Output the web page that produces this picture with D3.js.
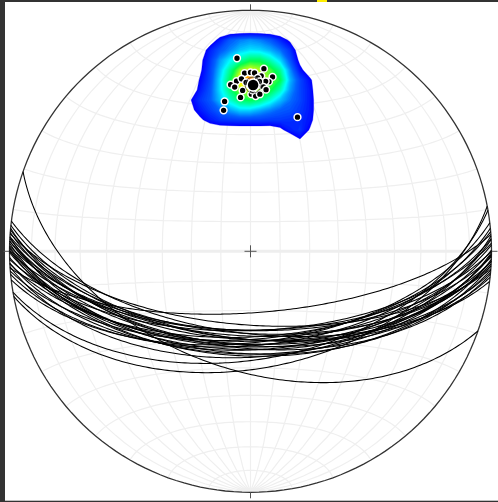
<!DOCTYPE html>
<html><head><meta charset="utf-8">
<script src="https://cdn.jsdelivr.net/npm/d3@7"></script>
<style>html,body{margin:0;padding:0;background:#fff;overflow:hidden}svg{display:block}</style>
</head><body><svg id="c" width="498" height="502"></svg>
<script>
// Poles to planes, lower hemisphere: trend and plunge in degrees
const poleTrend  = [356.0,358.1,0.0,1.3,4.2,7.2,6.2,5.1,3.5,2.4,355.3,353.2,357.2,356.3,350.2,349.2,19.3,0.3,1.9,3.4,359.7,2.4,0.7,357.0,4.5,358.5,1.0,5.5,354.5,3.0];
const polePlunge = [20.8,26.9,26.7,26.9,25.0,27.9,29.9,29.9,27.9,28.8,29.9,31.0,33.6,36.2,37.0,40.2,40.7,35.1,35.8,35.0,31.7,31.6,33.6,29.1,32.1,30.6,32.6,33.1,32.1,30.1];
const meanPole = [0.9, 31.6];

// Density values on a regular grid laid over the top of the net
const densityRows = [
[0,0,0,0,0,0,0,0,0,0,0,0,0,0,0],
[0,0,0,.03,.14,.24,.28,.30,.28,.24,.16,.08,0,0,0],
[0,0,.02,.15,.23,.29,.35,.38,.37,.33,.27,.18,.03,0,0],
[0,0,.07,.18,.31,.40,.48,.54,.54,.47,.37,.23,.07,0,0],
[0,0,.08,.20,.35,.50,.64,.70,.66,.60,.50,.30,.13,.03,0],
[0,0,.11,.21,.38,.55,.74,.86,.72,.62,.56,.34,.21,.12,0],
[0,0,.14,.23,.38,.52,.64,.70,.64,.57,.47,.31,.21,.14,0],
[0,.09,.18,.24,.35,.45,.54,.56,.52,.44,.35,.27,.21,.14,.03],
[0,.07,.14,.20,.26,.32,.37,.37,.33,.29,.25,.23,.19,.14,.03],
[0,0,.08,.14,.18,.19,.20,.20,.20,.19,.19,.18,.17,.13,.02],
[0,0,0,.02,.03,.03,.03,.03,.03,.03,.07,.15,.18,.09,0],
[0,0,0,0,0,0,0,0,0,0,0,0,.09,0,0],
[0,0,0,0,0,0,0,0,0,0,0,0,0,0,0]
];
const densityStops = [.1,.25,.4,.55,.7,.9];
const densityColors = ["#0000ff","#0064ff","#00ffff","#00ff50","#ffff00","#ff2000"];
const densityLevels = d3.range(.1,.96,.015);

const svg = d3.select("#c");
const cx = 250.5, cy = 251.3, R = 241;
const proj = d3.geoAzimuthalEqualArea().rotate([0,0]).scale(R/Math.SQRT2).translate([cx,cy]).clipAngle(90).precision(.2);
const path = d3.geoPath(proj);
const rad = Math.PI/180;
function toGeo(t,p){
  const x=Math.sin(t*rad)*Math.cos(p*rad), y=Math.cos(t*rad)*Math.cos(p*rad), z=Math.sin(p*rad);
  return [Math.atan2(x,z)/rad, Math.asin(y)/rad];
}
// frame
svg.append("rect").attr("width",498).attr("height",502).attr("fill","#fff");
svg.append("rect").attr("x",0).attr("y",0).attr("width",5).attr("height",502).attr("fill","#333");
svg.append("rect").attr("x",0).attr("y",0).attr("width",498).attr("height",2).attr("fill","#333");
svg.append("rect").attr("x",0).attr("y",500.7).attr("width",498).attr("height",1.3).attr("fill","#333");
svg.append("rect").attr("x",317).attr("y",0).attr("width",10).attr("height",2).attr("fill","#ffee00");
// graticule
const grat = d3.geoGraticule().step([10,10]).stepMajor([10,10]);
svg.append("path").datum(grat()).attr("d",path).attr("fill","none").attr("stroke","#efefef").attr("stroke-width",1.2);
svg.append("path").datum({type:"LineString",coordinates:[[-90,0],[0,0],[90,0]]}).attr("d",path).attr("fill","none").attr("stroke","#eeeeee").attr("stroke-width",3);
// density
const ny = densityRows.length, nx = densityRows[0].length;
const gx = d3.scaleLinear().domain([0,nx-1]).range([180,320]);
const gy = d3.scaleLinear().domain([0,ny-1]).range([30,150]);
const color = d3.scaleLinear().domain(densityStops).range(densityColors).clamp(true);
const gpath = d3.geoPath(d3.geoTransform({point(x,y){this.stream.point(gx(x-.5),gy(y-.5));}}));
const contours = d3.contours().size([nx,ny]).thresholds(densityLevels)(densityRows.flat());
svg.append("g").selectAll("path").data(contours).join("path").attr("d",gpath).attr("fill",d=>color(d.value)).attr("stroke",d=>color(d.value)).attr("stroke-width",.3);
// primitive
svg.append("path").datum({type:"Sphere"}).attr("d",path).attr("fill","none").attr("stroke","#333").attr("stroke-width",1.3);
// ticks and centre cross
const c0 = proj([0,0]);
const tick = (x1,y1,x2,y2)=>svg.append("line").attr("x1",c0[0]+x1).attr("y1",c0[1]+y1).attr("x2",c0[0]+x2).attr("y2",c0[1]+y2).attr("stroke","#555").attr("stroke-width",1);
tick(-6,0,6,0);tick(0,-6,0,6);
tick(0,-R,0,-R-6);tick(0,R,0,R+6);tick(-R,0,-R-6,0);tick(R,0,R+6,0);
// planes
const poles = poleTrend.map((t,i)=>[t,polePlunge[i]]);
svg.append("g").selectAll("path").data(poles).join("path")
  .attr("d",d=>{
    const ring = d3.geoCircle().center(toGeo(d[0],d[1])).radius(90).precision(1)().coordinates[0];
    return path({type:"LineString",coordinates:ring});
  }).attr("fill","none").attr("stroke","#000").attr("stroke-width",1.05);
// poles
svg.append("g").selectAll("circle").data(poles).join("circle")
  .attr("cx",d=>proj(toGeo(d[0],d[1]))[0]).attr("cy",d=>proj(toGeo(d[0],d[1]))[1])
  .attr("r",3.4).attr("fill","#000").attr("stroke","#fff").attr("stroke-width",1.5);
const mp = proj(toGeo(meanPole[0],meanPole[1]));
svg.append("circle").attr("cx",mp[0]).attr("cy",mp[1]).attr("r",8).attr("fill","none").attr("stroke","#555").attr("stroke-width",.8);
svg.append("circle").attr("cx",mp[0]).attr("cy",mp[1]).attr("r",6).attr("fill","#000").attr("stroke","#fff").attr("stroke-width",1.5);
</script></body></html>
